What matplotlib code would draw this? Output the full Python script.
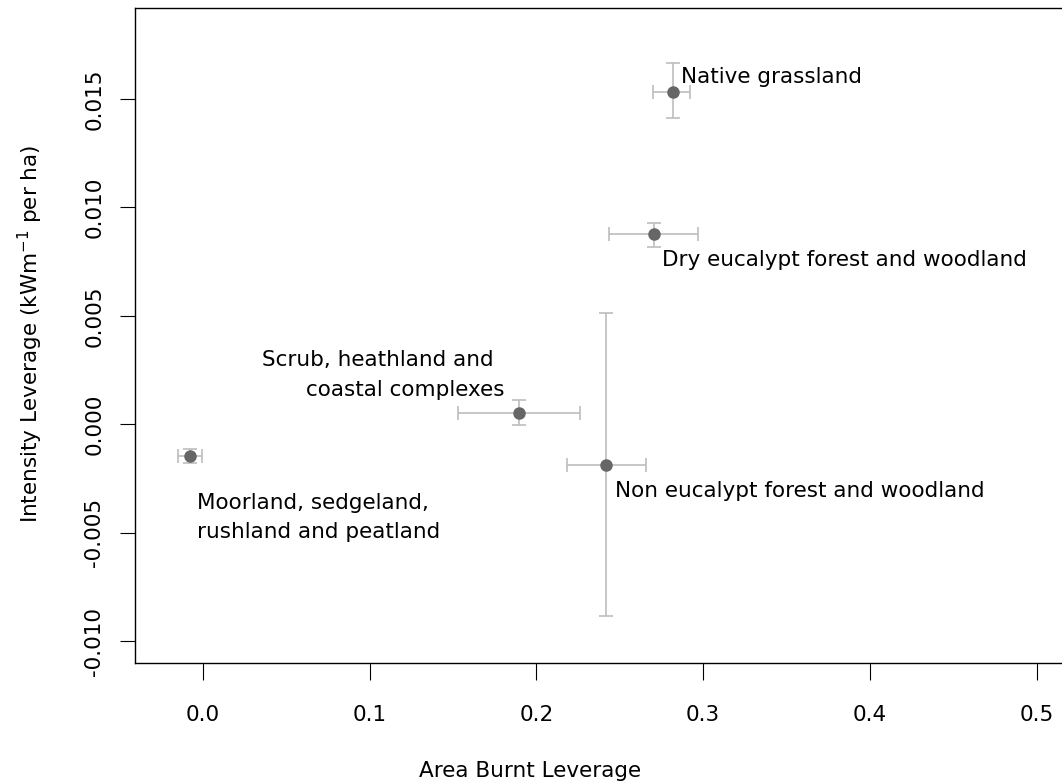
import matplotlib
matplotlib.use("Agg")
import matplotlib.pyplot as plt

plt.rcParams['font.family'] = ['DejaVu Sans']

# vegetation groups, point estimates and error bar bounds
groups = ["Native grassland", "Dry eucalypt forest and woodland",
          "Scrub, heathland and coastal complexes",
          "Non eucalypt forest and woodland",
          "Moorland, sedgeland, rushland and peatland"]
area = [0.2818, 0.2707, 0.1897, 0.2418, -0.0078]
area_lo = [0.2698, 0.2437, 0.1530, 0.2182, -0.0152]
area_hi = [0.2921, 0.2968, 0.2263, 0.2657, -0.0004]
inten = [0.01534, 0.00876, 0.00053, -0.00187, -0.00145]
inten_lo = [0.01411, 0.00819, -0.00002, -0.00885, -0.00178]
inten_hi = [0.01665, 0.00929, 0.00110, 0.00514, -0.00116]

xticks = [0.0, 0.1, 0.2, 0.3, 0.4, 0.5]
yticks = [-0.010, -0.005, 0.000, 0.005, 0.010, 0.015]

fig = plt.figure(figsize=(10.62, 7.82), dpi=100, facecolor='white')
ax = fig.add_axes([0.1271, 0.1522, 0.896, 0.8376])

xerr = [[a - l for a, l in zip(area, area_lo)], [h - a for a, h in zip(area, area_hi)]]
yerr = [[v - l for v, l in zip(inten, inten_lo)], [h - v for v, h in zip(inten, inten_hi)]]
ax.errorbar(area, inten, xerr=xerr, yerr=yerr, fmt='none', ecolor='#bebebe',
            elinewidth=1.2, capsize=5, capthick=1.2, zorder=2)
ax.plot(area, inten, 'o', color='#666666', markersize=8, zorder=3)

fs = 15.5
ax.text(0.2867, 0.01572, "Native grassland", fontsize=fs, va='baseline', ha='left')
ax.text(0.2755, 0.00730, "Dry eucalypt forest and woodland", fontsize=fs, va='baseline', ha='left')
ax.text(0.1746, 0.00268, "Scrub, heathland and", fontsize=fs, va='baseline', ha='right')
ax.text(0.1806, 0.00130, "coastal complexes", fontsize=fs, va='baseline', ha='right')
ax.text(0.2472, -0.00337, "Non eucalypt forest and woodland", fontsize=fs, va='baseline', ha='left')
ax.text(-0.0038, -0.00391, "Moorland, sedgeland,", fontsize=fs, va='baseline', ha='left')
ax.text(-0.0038, -0.00525, "rushland and peatland", fontsize=fs, va='baseline', ha='left')

ax.set_xlim(-0.0408, 0.53)
ax.set_ylim(-0.01101, 0.0192)
ax.set_xticks(xticks)
ax.set_xticklabels(["%.1f" % t for t in xticks])
ax.set_yticks(yticks)
ax.set_yticklabels(["%.3f" % t for t in yticks], rotation=90, va='center')
ax.tick_params(axis='x', length=12, width=0.8, pad=18, labelsize=fs)
ax.tick_params(axis='y', length=11, width=0.8, pad=11, labelsize=fs)
for s in ax.spines.values():
    s.set_linewidth(1.0)

fig.text(0.4991, 0.0064, "Area Burnt Leverage", fontsize=fs, ha='center', va='baseline')
fig.text(0.0358, 0.573, "Intensity Leverage (kWm$^{-1}$ per ha)", fontsize=fs,
         ha='center', va='baseline', rotation=90, rotation_mode='anchor')

fig.savefig("out.png", dpi=100, facecolor='white')
